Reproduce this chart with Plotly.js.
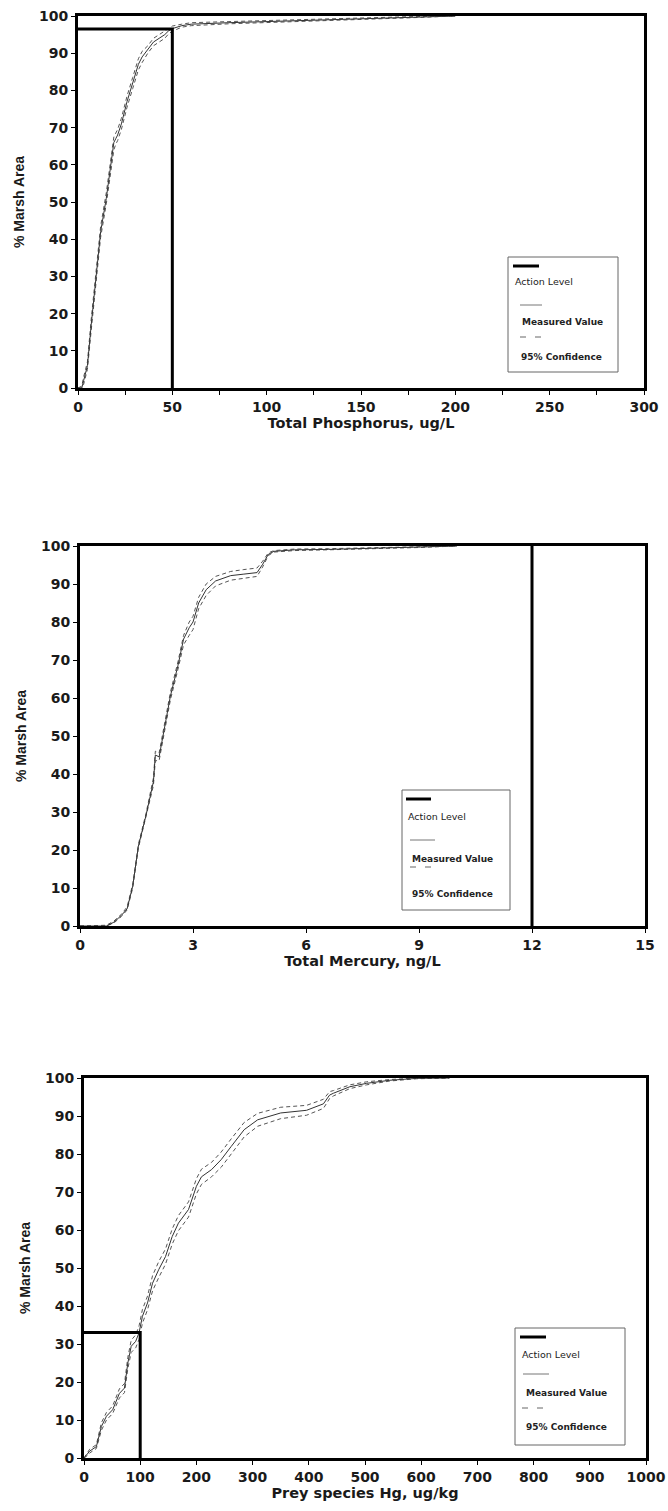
<!DOCTYPE html>
<html>
<head>
<meta charset="utf-8">
<script src="https://cdn.plot.ly/plotly-3.0.1.min.js"></script>
<style>html,body{margin:0;padding:0;background:#fff;}#chart{width:668px;height:1511px;}</style>
</head>
<body>
<div id="chart"></div>
<script>
// ---------- Chart 1: Total Phosphorus ----------
const tpX  = [0, 2, 3, 5, 7, 10, 12, 15, 18, 19, 20, 21, 23, 26, 29, 32, 34, 37, 40, 43, 46, 48, 50, 55, 60, 80, 100, 125, 150, 175, 200];
const tpMV = [0, 0, 2, 6, 17, 31, 42, 51, 63, 66, 67, 68, 71, 77, 82, 87, 89, 91, 93, 94, 95, 96, 96.6, 97.4, 97.8, 98.2, 98.5, 98.9, 99.3, 99.7, 100];
const tpLo = [0, 0, 1, 5, 15.5, 29.5, 40.5, 49.5, 61.5, 64, 65.5, 66.5, 69.5, 75.5, 80.5, 85.5, 87.5, 90, 92, 93, 94, 95.2, 95.9, 97, 97.4, 97.9, 98.2, 98.6, 99, 99.5, 100];
const tpHi = [0, 0.5, 3, 7, 18.5, 32.5, 43.5, 52.5, 64.5, 67.5, 68.5, 69.5, 72.5, 78.5, 83.5, 88.5, 90.5, 92, 94, 95, 96, 96.8, 97.3, 97.8, 98.2, 98.5, 98.8, 99.2, 99.5, 99.8, 100];
const tpActionX = [0, 50, 50];
const tpActionY = [96.5, 96.5, 0];

// ---------- Chart 2: Total Mercury ----------
const hgX  = [0, 0.7, 0.9, 1.1, 1.25, 1.4, 1.55, 1.75, 1.95, 2.0, 2.1, 2.25, 2.4, 2.6, 2.75, 2.9, 3.0, 3.15, 3.35, 3.6, 4.0, 4.35, 4.7, 4.85, 5.0, 5.15, 5.7, 6.6, 8.0, 9.0, 10.0];
const hgMV = [0, 0, 1, 2.8, 4.5, 10.5, 21, 29, 38, 45, 44.5, 52.5, 60.5, 68.5, 75.5, 78.5, 80, 85, 88.5, 90.8, 92.2, 92.6, 93, 95.2, 97.8, 98.6, 99, 99.1, 99.4, 99.7, 100];
const hgLo = [0, 0, 0.8, 2.5, 4.2, 10, 20.5, 28.5, 37, 43.5, 43.5, 51.5, 59.5, 67.5, 74, 76.5, 78, 83.5, 87, 89.5, 91, 91.5, 92, 94.5, 97.5, 98.4, 98.8, 99, 99.3, 99.6, 100];
const hgHi = [0, 0.2, 1.3, 3.1, 5, 11, 21.5, 29.5, 39, 46, 45.5, 53.5, 61.5, 69.5, 76.5, 80, 81.5, 86.5, 90, 92, 93.3, 93.8, 94.2, 96, 98.2, 98.8, 99.2, 99.3, 99.6, 99.8, 100];
const hgActionX = [12, 12];
const hgActionY = [0, 100];

// ---------- Chart 3: Prey species Hg ----------
const prX  = [0, 5, 10, 22, 31, 40, 51, 63, 72, 78, 84, 92, 98, 104, 113, 122, 133, 145, 157, 168, 186, 200, 209, 227, 244, 262, 285, 309, 350, 396, 426, 437, 444, 473, 503, 544, 592, 650];
const prMV = [0, 0.8, 1.8, 3, 8.3, 11, 12.7, 17, 18.4, 25, 29.4, 30.7, 33, 37.3, 40.8, 46, 49.6, 53, 58.3, 61.8, 65.4, 71.5, 74, 75.9, 78.5, 82, 86.4, 89, 90.8, 91.5, 93.2, 95.5, 96, 97.7, 98.6, 99.4, 99.9, 100];
const prLo = [0, 0.5, 1.3, 2.5, 7.3, 10, 11.7, 15.8, 17.2, 23.5, 27.8, 29, 31.2, 35.5, 39, 44, 47.5, 51, 56.3, 59.8, 63.4, 69.5, 72, 74, 76.5, 80, 84.5, 87.3, 89.3, 90.2, 92, 94.6, 95.3, 97.2, 98.2, 99.2, 99.8, 100];
const prHi = [0, 1.1, 2.3, 3.5, 9.3, 12, 13.7, 18.2, 19.6, 26.5, 31, 32.4, 34.8, 39.1, 42.6, 48, 51.7, 55, 60.3, 63.8, 67.4, 73.5, 76, 77.8, 80.5, 84, 88.3, 90.7, 92.3, 92.8, 94.4, 96.4, 96.7, 98.2, 99, 99.6, 100, 100];
const prActionX = [0, 100, 100];
const prActionY = [33, 33, 0];

// ---------- labels ----------
const yTitle = "% Marsh Area";
const xTitles = ["Total Phosphorus, ug/L", "Total Mercury, ng/L", "Prey species Hg, ug/kg"];
const legendLabels = ["Action Level", "Measured Value", "95% Confidence"];

const W = 668, H = 1511;
const px = v => v / W;
const py = v => 1 - v / H;

const WIDE = "DejaVu Sans, Verdana, sans-serif";
const NARROW = "Liberation Sans, Arial, sans-serif";
const actionStyle = {color: "#000", width: 3};
const mvStyle = {color: "#333", width: 1};
const ciStyle = {color: "#555", width: 1, dash: "4px,3px"};

function seriesTraces(x, mv, lo, hi, ax, ay, xa, ya) {
  return [
    {x: x, y: lo, mode: "lines", line: ciStyle, xaxis: xa, yaxis: ya, showlegend: false},
    {x: x, y: hi, mode: "lines", line: ciStyle, xaxis: xa, yaxis: ya, showlegend: false},
    {x: x, y: mv, mode: "lines", line: mvStyle, xaxis: xa, yaxis: ya, showlegend: false},
    {x: ax, y: ay, mode: "lines", line: actionStyle, xaxis: xa, yaxis: ya, showlegend: false}
  ];
}

const data = [].concat(
  seriesTraces(tpX, tpMV, tpLo, tpHi, tpActionX, tpActionY, "x", "y"),
  seriesTraces(hgX, hgMV, hgLo, hgHi, hgActionX, hgActionY, "x2", "y2"),
  seriesTraces(prX, prMV, prLo, prHi, prActionX, prActionY, "x3", "y3")
);

const tickFont = {family: WIDE, size: 14, color: "#1a1a1a", weight: "bold"};
const xTitleFont = {family: WIDE, size: 14.5, color: "#1a1a1a", weight: "bold"};
const yTitleFont = {family: NARROW, size: 14, color: "#1a1a1a", weight: "bold"};

function xAxis(domain, range, dtick, minorDtick, title, anchor) {
  const a = {
    domain: domain, range: range, dtick: dtick, tick0: 0, anchor: anchor,
    showgrid: false, zeroline: false, showline: true, linewidth: 3, linecolor: "#000", mirror: true,
    ticks: "outside", ticklen: 4, tickwidth: 1, tickcolor: "#000",
    tickfont: tickFont, fixedrange: true,
    title: {text: title, font: xTitleFont, standoff: 1}
  };
  if (minorDtick) a.minor = {dtick: minorDtick, ticks: "outside", ticklen: 4, tickcolor: "#000", showgrid: false};
  return a;
}
function yAxis(domain, anchor) {
  return {
    domain: domain, range: [0, 100], dtick: 10, tick0: 0, anchor: anchor,
    showgrid: false, zeroline: false, showline: true, linewidth: 3, linecolor: "#000", mirror: true,
    ticks: "outside", ticklen: 4, tickwidth: 1, tickcolor: "#000",
    tickfont: tickFont, fixedrange: true,
    title: {text: yTitle, font: yTitleFont, standoff: 12}
  };
}

// legend boxes (pixel positions)
const legends = [
  {box: [508, 257, 618, 372], a: [513, 539, 266], t1: [513, 282], m: [520, 542, 305], t2: [520, 322], c: [520, 542, 337], t3: [519, 357]},
  {box: [402, 790, 510, 910], a: [406, 431, 799], t1: [406, 816], m: [410, 435, 840], t2: [410, 859], c: [410, 432, 867], t3: [410, 894]},
  {box: [515, 1328, 625, 1445], a: [520, 546, 1337], t1: [520, 1354], m: [523, 549, 1374], t2: [524, 1393], c: [522, 543, 1408], t3: [524, 1427]}
];

const shapes = [];
const annotations = [];
legends.forEach(L => {
  shapes.push({type: "rect", xref: "paper", yref: "paper", x0: px(L.box[0]), x1: px(L.box[2]), y0: py(L.box[1]), y1: py(L.box[3]),
    line: {color: "#666", width: 1}, fillcolor: "#fff", layer: "above"});
  shapes.push({type: "line", xref: "paper", yref: "paper", x0: px(L.a[0]), x1: px(L.a[1]), y0: py(L.a[2]), y1: py(L.a[2]), line: {color: "#000", width: 3}});
  shapes.push({type: "line", xref: "paper", yref: "paper", x0: px(L.m[0]), x1: px(L.m[1]), y0: py(L.m[2]), y1: py(L.m[2]), line: {color: "#777", width: 1}});
  shapes.push({type: "line", xref: "paper", yref: "paper", x0: px(L.c[0]), x1: px(L.c[1]), y0: py(L.c[2]), y1: py(L.c[2]), line: {color: "#666", width: 1, dash: "6px,9px"}});
  const tx = [L.t1, L.t2, L.t3];
  tx.forEach((t, i) => {
    annotations.push({xref: "paper", yref: "paper", x: px(t[0]), y: py(t[1]), xanchor: "left", yanchor: "middle",
      text: i === 0 ? legendLabels[i] : "<b>" + legendLabels[i] + "</b>", showarrow: false,
      font: {family: WIDE, size: i === 0 ? 9.5 : 9, color: "#222"}});
  });
});

const layout = {
  width: W, height: H,
  margin: {l: 0, r: 0, t: 0, b: 0},
  paper_bgcolor: "#fff", plot_bgcolor: "#fff",
  showlegend: false,
  font: {family: WIDE, color: "#111"},
  xaxis:  xAxis([px(78), px(644)], [0, 300], 50, 25, xTitles[0], "y"),
  yaxis:  yAxis([py(388), py(16)], "x"),
  xaxis2: xAxis([px(80), px(645)], [0, 15], 3, null, xTitles[1], "y2"),
  yaxis2: yAxis([py(926), py(546)], "x2"),
  xaxis3: xAxis([px(84), px(646)], [0, 1000], 100, null, xTitles[2], "y3"),
  yaxis3: yAxis([py(1458), py(1078)], "x3"),
  shapes: shapes,
  annotations: annotations
};

Plotly.newPlot("chart", data, layout, {staticPlot: true, displayModeBar: false});
</script>
</body>
</html>
